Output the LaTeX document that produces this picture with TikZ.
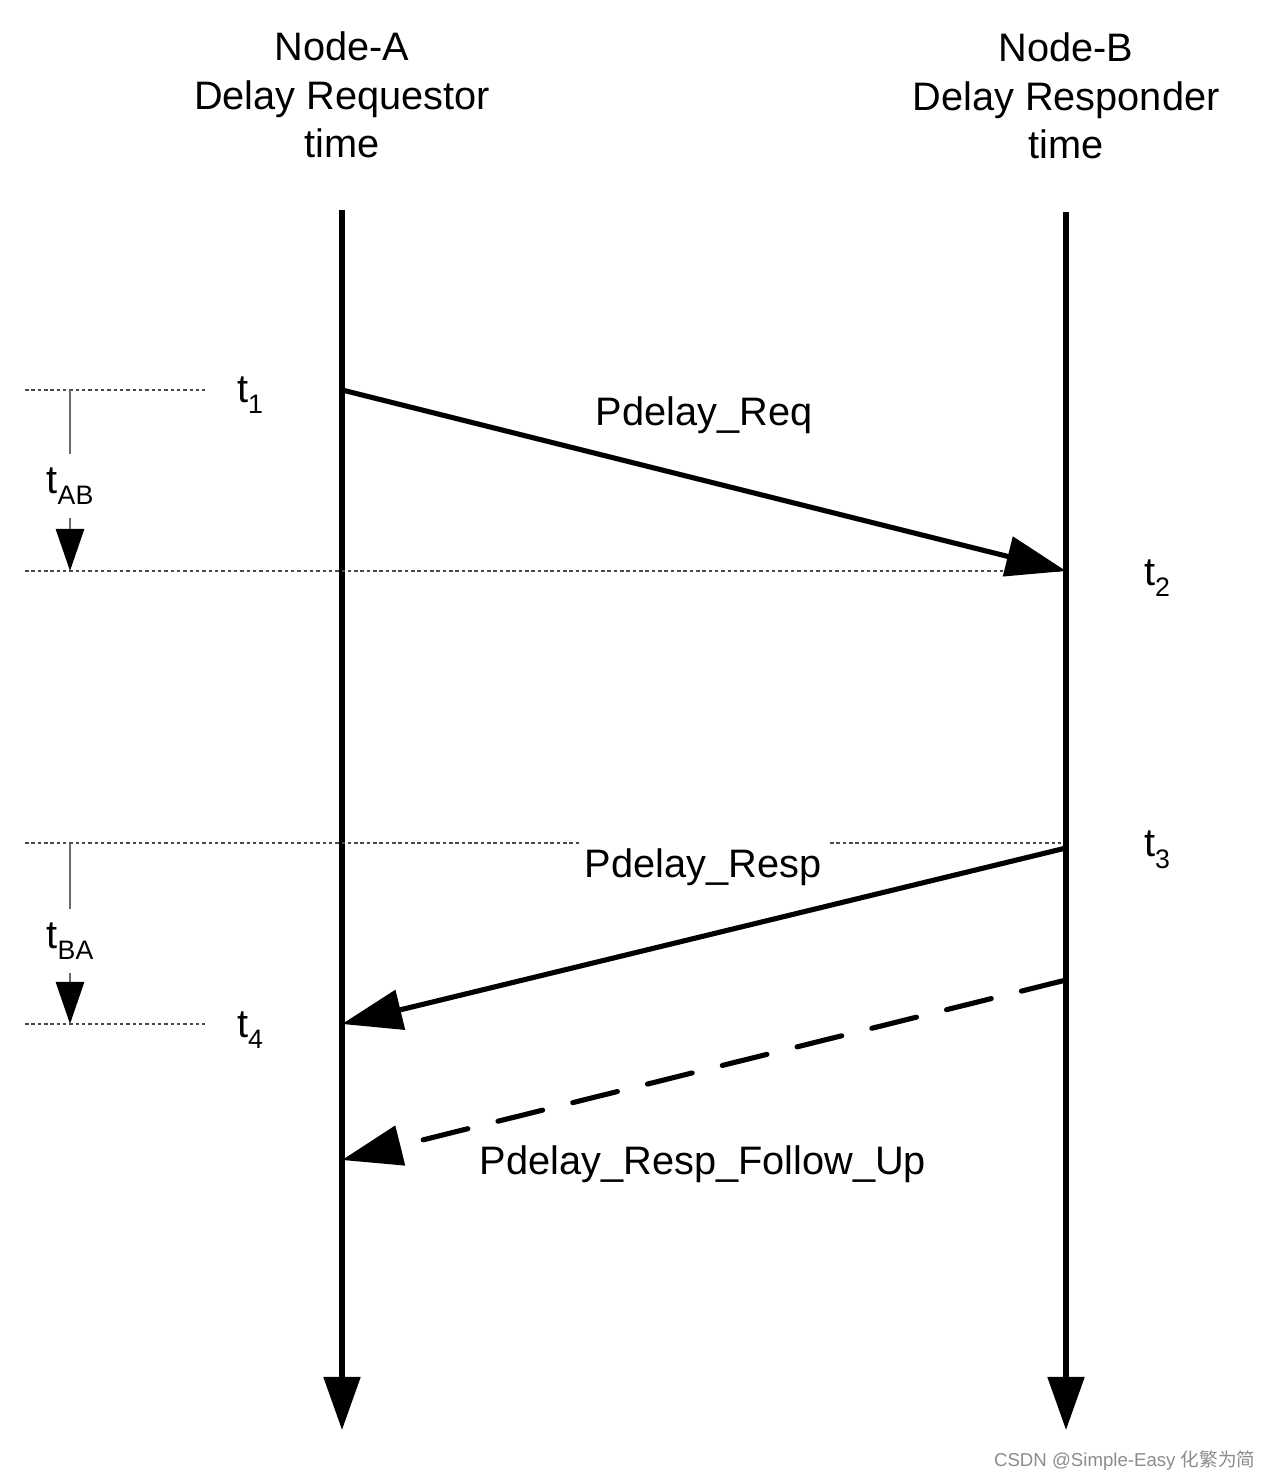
\documentclass[tikz,border=0pt]{standalone}
\usepackage{fontspec}
\setmainfont{Liberation Sans}
\newfontfamily\cjkfont{Noto Sans CJK SC}
\usetikzlibrary{arrows.meta}
\definecolor{guidegray}{HTML}{4a4a4a}
\definecolor{spangray}{HTML}{6a6a6a}
\definecolor{markgray}{HTML}{8c8c8c}
\newcommand{\tsub}[1]{t\raisebox{-3.3pt}{\fontsize{7.6pt}{7.6pt}\selectfont #1}}

\begin{document}
\begin{tikzpicture}[x=0.01cm,y=-0.01cm,
  timeline/.style={line width=1.45pt,-{Triangle[length=0.53cm,width=0.36cm]}},
  msg/.style={line width=1.45pt,-{Triangle[length=0.6cm,width=0.4cm]}},
  guide/.style={guidegray,line width=0.4pt,dash pattern=on 1pt off 0.8pt},
  span/.style={spangray,line width=0.8pt},
  spanarrow/.style={span,-{Triangle[length=0.42cm,width=0.28cm,color=black]}},
  lbl/.style={font=\fontsize{11.3pt}{13.8pt}\selectfont,inner sep=0pt}]
  \fill[white] (0,0) rectangle (1272,1480);

  % headers
  \node[lbl,align=center] (hdrA) at (342,95) {Node-A\\Delay Requestor\\time};
  \node[lbl,align=center] (hdrB) at (1066,96) {Node-B\\Delay Responder\\time};

  % time lines
  \coordinate (topA) at (342,210);
  \coordinate (botA) at (342,1430);
  \coordinate (topB) at (1066,212);
  \coordinate (botB) at (1066,1430);
  \draw[timeline] (topA) -- (botA);
  \draw[timeline] (topB) -- (botB);

  % event points
  \coordinate (a1) at (342,390);
  \coordinate (b2) at (1066,571);
  \coordinate (b3) at (1066,848);
  \coordinate (a4) at (342,1024);
  \coordinate (b5) at (1066,980);
  \coordinate (a6) at (342,1160);

  % guide lines
  \coordinate (g1l) at (25,390);  \coordinate (g1r) at (205,390);
  \coordinate (g2l) at (25,571);  \coordinate (g2r) at (1062,571);
  \coordinate (g3l) at (25,843);  \coordinate (g3m) at (580,843);
  \coordinate (g3n) at (830,843); \coordinate (g3r) at (1062,843);
  \coordinate (g4l) at (25,1024); \coordinate (g4r) at (205,1024);
  \draw[guide] (g1l) -- (g1r);
  \draw[guide] (g2l) -- (g2r);
  \draw[guide] (g3l) -- (g3m);
  \draw[guide] (g3n) -- (g3r);
  \draw[guide] (g4l) -- (g4r);

  % time stamps
  \node[lbl] (t1) at (250,395) {\tsub{1}};
  \node[lbl] (t2) at (1157,578) {\tsub{2}};
  \node[lbl] (t3) at (1157,850) {\tsub{3}};
  \node[lbl] (t4) at (250,1030) {\tsub{4}};

  % delays
  \coordinate (abtop) at (70,390);
  \coordinate (abbot) at (70,571);
  \coordinate (batop) at (70,843);
  \coordinate (babot) at (70,1024);
  \node[lbl,outer sep=3.7pt] (tab) at (70,486) {\tsub{AB}};
  \node[lbl,outer sep=3.7pt] (tba) at (70,941) {\tsub{BA}};
  \draw[span] (abtop) -- (tab);
  \draw[spanarrow] (tab) -- (abbot);
  \draw[span] (batop) -- (tba);
  \draw[spanarrow] (tba) -- (babot);

  % messages
  \draw[msg] (a1) -- (b2);
  \draw[msg] (b3) -- (a4);
  \draw[msg,dash pattern=on 0.46cm off 0.31cm,line cap=round] (b5) -- (a6);
  \node[lbl] (req) at (704,415) {Pdelay\_Req};
  \node[lbl] (resp) at (703,867) {Pdelay\_Resp};
  \node[lbl] (fup) at (703,1164) {Pdelay\_Resp\_Follow\_Up};

  % watermark
  \node[inner sep=0pt,anchor=east,text=markgray,font=\fontsize{5.3pt}{6pt}\selectfont]
    (mark) at (1256,1461) {CSDN @Simple-Easy {\cjkfont 化繁为简}};
\end{tikzpicture}
\end{document}
